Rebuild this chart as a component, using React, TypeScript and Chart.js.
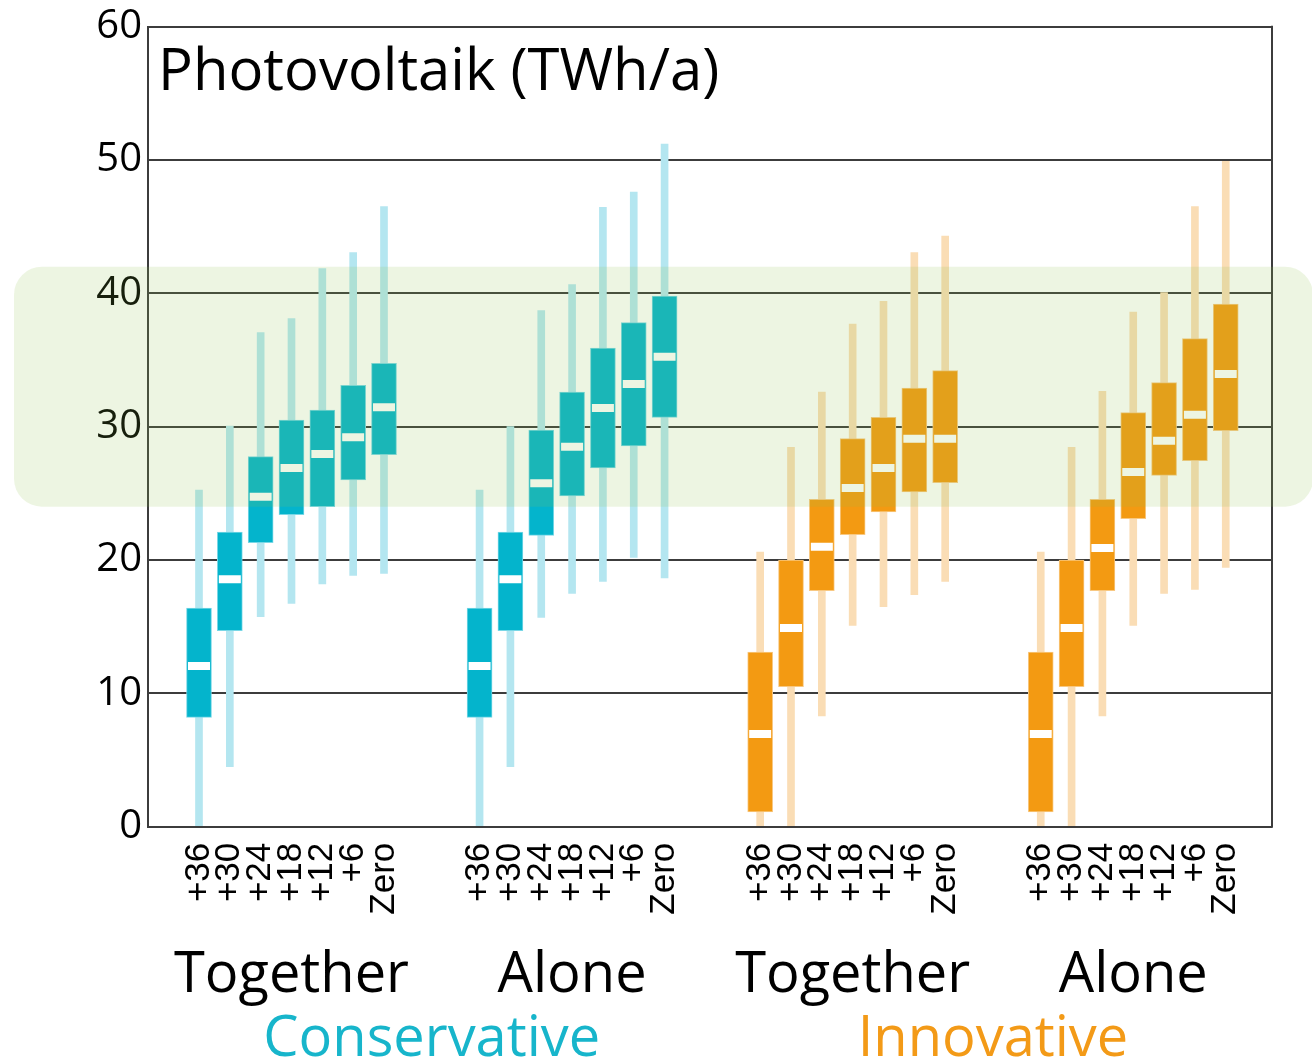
import React, { useEffect, useRef } from 'react';
import { Chart, registerables } from 'chart.js';

Chart.register(...registerables);

// ---------- data ----------
const TITLE = 'Photovoltaik (TWh/a)';
const X_TICK_LABELS = ['+36', '+30', '+24', '+18', '+12', '+6', 'Zero'];
const GROUP_LABELS = ['Together', 'Alone', 'Together', 'Alone'];
const SCENARIO_LABELS = ['Conservative', 'Innovative'];
const Y_TICKS = [0, 10, 20, 30, 40, 50, 60];
const BAND_RANGE = [24, 42];

// Conservative – Together
const consTogetherMin = [0, 4.5, 15.75, 16.75, 18.2, 18.85, 19.0];
const consTogetherQ1 = [8.2, 14.7, 21.3, 23.4, 24.0, 26.0, 27.9];
const consTogetherMedian = [12.05, 18.55, 24.75, 26.9, 27.95, 29.2, 31.45];
const consTogetherQ3 = [16.4, 22.1, 27.75, 30.5, 31.25, 33.1, 34.75];
const consTogetherMax = [25.25, 30.05, 37.05, 38.1, 41.85, 43.05, 46.5];

// Conservative – Alone
const consAloneMin = [0, 4.5, 15.7, 17.5, 18.4, 20.2, 18.65];
const consAloneQ1 = [8.2, 14.7, 21.85, 24.8, 26.9, 28.55, 30.7];
const consAloneMedian = [12.05, 18.55, 25.75, 28.5, 31.4, 33.2, 35.25];
const consAloneQ3 = [16.4, 22.1, 29.75, 32.6, 35.9, 37.8, 39.8];
const consAloneMax = [25.25, 30.0, 38.7, 40.65, 46.45, 47.6, 51.2];

// Innovative – Together
const innoTogetherMin = [0, 0, 8.3, 15.1, 16.5, 17.4, 18.4];
const innoTogetherQ1 = [1.1, 10.5, 17.7, 21.9, 23.6, 25.1, 25.8];
const innoTogetherMedian = [6.95, 14.9, 21.0, 25.4, 26.9, 29.1, 29.1];
const innoTogetherQ3 = [13.1, 20.0, 24.55, 29.1, 30.7, 32.9, 34.2];
const innoTogetherMax = [20.6, 28.45, 32.6, 37.7, 39.4, 43.05, 44.3];

// Innovative – Alone
const innoAloneMin = [0, 0, 8.3, 15.1, 17.5, 17.8, 19.45];
const innoAloneQ1 = [1.1, 10.5, 17.7, 23.1, 26.35, 27.45, 29.7];
const innoAloneMedian = [6.95, 14.9, 20.9, 26.6, 28.95, 30.9, 33.95];
const innoAloneQ3 = [13.1, 20.0, 24.55, 31.05, 33.3, 36.6, 39.2];
const innoAloneMax = [20.6, 28.45, 32.65, 38.6, 40.05, 46.5, 49.9];

// ---------- styles ----------
const GROUP_STEP = 9.1;
const CONS_BOX = '#04B4CC';
const CONS_WHISKER = '#B4E6F0';
const INNO_BOX = '#F39A12';
const INNO_WHISKER = '#FADDB5';
const CONS_TEXT = '#17B5CB';
const INNO_TEXT = '#F39A17';
const GRID_COLOR = '#3c3c3c';
const BAND_COLOR = 'rgba(142,192,74,0.16)';

const GROUPS = [
  { min: consTogetherMin, q1: consTogetherQ1, med: consTogetherMedian, q3: consTogetherQ3, max: consTogetherMax, inno: false },
  { min: consAloneMin, q1: consAloneQ1, med: consAloneMedian, q3: consAloneQ3, max: consAloneMax, inno: false },
  { min: innoTogetherMin, q1: innoTogetherQ1, med: innoTogetherMedian, q3: innoTogetherQ3, max: innoTogetherMax, inno: true },
  { min: innoAloneMin, q1: innoAloneQ1, med: innoAloneMedian, q3: innoAloneQ3, max: innoAloneMax, inno: true },
];

const xOf = (g: number, i: number) => g * GROUP_STEP + i;
const X_POSITIONS: number[] = [];
GROUPS.forEach((_, g) => X_TICK_LABELS.forEach((__, i) => X_POSITIONS.push(xOf(g, i))));

function collect(inno: boolean, fn: (grp: any, i: number, g: number) => any) {
  const out: any[] = [];
  GROUPS.forEach((grp, g) => {
    if (grp.inno !== inno) return;
    X_TICK_LABELS.forEach((_, i) => out.push(fn(grp, i, g)));
  });
  return out;
}

const overlayPlugin = {
  id: 'overlayPlugin',
  afterDraw(chart: any) {
    const { ctx, chartArea, scales } = chart;
    const x = scales.x;
    const y = scales.y;
    ctx.save();
    // right frame line
    ctx.strokeStyle = GRID_COLOR;
    ctx.lineWidth = 2;
    ctx.beginPath();
    ctx.moveTo(chartArea.right, chartArea.top - 1);
    ctx.lineTo(chartArea.right, chartArea.bottom + 1);
    ctx.stroke();
    // title
    ctx.fillStyle = '#000';
    ctx.textAlign = 'left';
    ctx.textBaseline = 'alphabetic';
    ctx.font = '58px "Open Sans"';
    ctx.fillText(TITLE, chartArea.left + 10, 90);
    // group labels
    ctx.textAlign = 'center';
    ctx.font = '56px "Open Sans"';
    GROUP_LABELS.forEach((lab, g) => {
      ctx.fillText(lab, x.getPixelForValue(xOf(g, 3)), 992);
    });
    SCENARIO_LABELS.forEach((lab, s) => {
      ctx.fillStyle = s === 0 ? CONS_TEXT : INNO_TEXT;
      const cx = (x.getPixelForValue(xOf(2 * s, 3)) + x.getPixelForValue(xOf(2 * s + 1, 3))) / 2;
      ctx.fillText(lab, cx, 1056);
    });
    // translucent highlight band
    const top = y.getPixelForValue(BAND_RANGE[1]);
    const bottom = y.getPixelForValue(BAND_RANGE[0]);
    ctx.fillStyle = BAND_COLOR;
    ctx.beginPath();
    ctx.roundRect(14, top, 1313 - 14, bottom - top, 28);
    ctx.fill();
    ctx.restore();
  },
};

export default function App() {
  const canvasRef = useRef<HTMLCanvasElement | null>(null);

  useEffect(() => {
    const canvas = canvasRef.current;
    if (!canvas) return;

    const datasets: any[] = [
      {
        type: 'scatter',
        label: 'median',
        order: 0,
        data: [...collect(false, (g, i, gi) => ({ x: xOf(gi, i), y: g.med[i] })), ...collect(true, (g, i, gi) => ({ x: xOf(gi, i), y: g.med[i] }))],
        showLine: false,
        pointStyle: 'line',
        pointRadius: 11,
        pointHoverRadius: 11,
        pointBorderWidth: 8,
        pointBorderColor: '#ffffff',
        pointBackgroundColor: '#ffffff',
      },
      {
        type: 'bar',
        label: 'cons box',
        order: 1,
        grouped: false,
        data: collect(false, (g, i, gi) => ({ x: xOf(gi, i), y: [g.q1[i], g.q3[i]] })),
        backgroundColor: CONS_BOX,
        borderColor: 'rgba(120,215,230,1)',
        borderWidth: 1,
        borderSkipped: false,
        barThickness: 25,
      },
      {
        type: 'bar',
        label: 'inno box',
        order: 1,
        grouped: false,
        data: collect(true, (g, i, gi) => ({ x: xOf(gi, i), y: [g.q1[i], g.q3[i]] })),
        backgroundColor: INNO_BOX,
        borderColor: 'rgba(248,200,130,1)',
        borderWidth: 1,
        borderSkipped: false,
        barThickness: 25,
      },
      {
        type: 'bar',
        label: 'cons whisker',
        order: 2,
        grouped: false,
        data: collect(false, (g, i, gi) => ({ x: xOf(gi, i), y: [g.min[i], g.max[i]] })),
        backgroundColor: CONS_WHISKER,
        borderWidth: 0,
        barThickness: 7,
      },
      {
        type: 'bar',
        label: 'inno whisker',
        order: 2,
        grouped: false,
        data: collect(true, (g, i, gi) => ({ x: xOf(gi, i), y: [g.min[i], g.max[i]] })),
        backgroundColor: INNO_WHISKER,
        borderWidth: 0,
        barThickness: 7,
      },
    ];

    const chart = new Chart(canvas, {
      type: 'bar',
      data: { datasets },
      options: {
        responsive: false,
        animation: false,
        events: [],
        layout: { padding: { left: 0, right: 40, top: 26.7, bottom: 0 } },
        plugins: {
          legend: { display: false },
          tooltip: { enabled: false },
          title: { display: false },
        },
        scales: {
          x: {
            type: 'linear',
            min: -1.654,
            max: 34.8,
            offset: false,
            grid: { display: false, drawTicks: false },
            border: { display: false },
            afterBuildTicks: (scale: any) => {
              scale.ticks = X_POSITIONS.map((v) => ({ value: v }));
            },
            afterFit: (scale: any) => {
              scale.height = 1062 - 826.7;
            },
            ticks: {
              autoSkip: false,
              minRotation: 90,
              maxRotation: 90,
              padding: 16,
              color: '#000',
              font: { family: '"Liberation Sans", Arial, sans-serif', size: 35 },
              callback: (_v: any, index: number) => X_TICK_LABELS[index % X_TICK_LABELS.length],
            },
          },
          y: {
            type: 'linear',
            min: Y_TICKS[0],
            max: Y_TICKS[Y_TICKS.length - 1],
            afterBuildTicks: (scale: any) => {
              scale.ticks = Y_TICKS.map((v) => ({ value: v }));
            },
            afterFit: (scale: any) => {
              scale.width = 148;
            },
            grid: { color: GRID_COLOR, lineWidth: 2, drawTicks: false },
            border: { display: true, color: GRID_COLOR, width: 2 },
            ticks: {
              padding: 6,
              color: '#000',
              font: { family: '"Open Sans", sans-serif', size: 40, lineHeight: 1.0 },
            },
          },
        },
      },
      plugins: [overlayPlugin],
    } as any);

    return () => chart.destroy();
  }, []);

  return (
    <div style={{ position: 'absolute', left: 0, top: 0, width: 1312, height: 1062, background: '#fff' }}>
      <canvas ref={canvasRef} width={1312} height={1062} style={{ width: 1312, height: 1062, display: 'block' }} />
    </div>
  );
}
